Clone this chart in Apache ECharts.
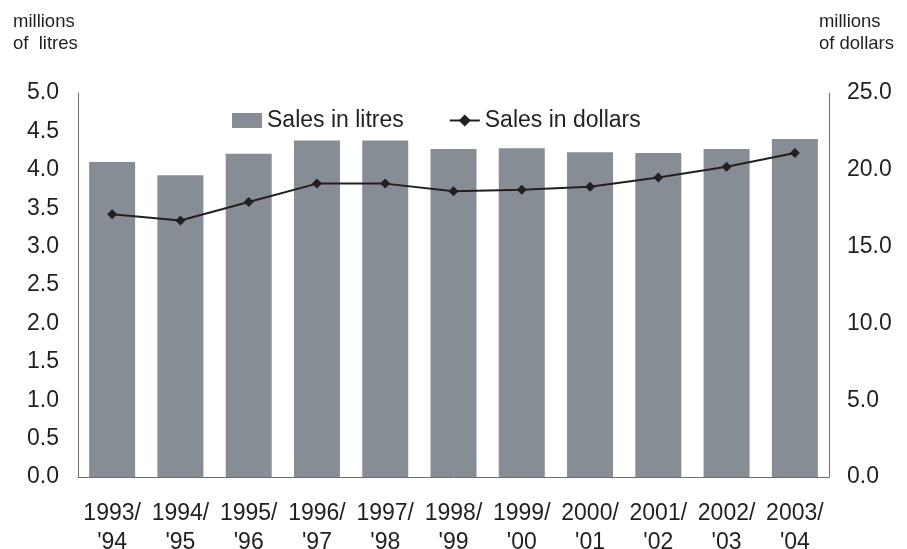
<!DOCTYPE html>
<html>
<head>
<meta charset="utf-8">
<script src="https://cdn.jsdelivr.net/npm/echarts@6/dist/echarts.min.js"></script>
<style>
html,body{margin:0;padding:0;background:#fff;overflow:hidden;}
#chart{width:907px;height:549px;}
</style>
</head>
<body>
<div id="chart"></div>
<script>
var categories = ["1993/\n'94","1994/\n'95","1995/\n'96","1996/\n'97","1997/\n'98","1998/\n'99","1999/\n'00","2000/\n'01","2001/\n'02","2002/\n'03","2003/\n'04"];
var salesLitres = [4.10, 3.93, 4.21, 4.38, 4.38, 4.27, 4.28, 4.23, 4.22, 4.27, 4.40];
var salesDollars = [17.1, 16.7, 17.9, 19.1, 19.1, 18.6, 18.7, 18.9, 19.5, 20.2, 21.1];
var leftTicks = {min: 0, max: 5, interval: 0.5};
var rightTicks = {min: 0, max: 25, interval: 5};

var FONT = '"Liberation Sans", Arial, sans-serif';
var TXT = '#231f20';
var chart = echarts.init(document.getElementById('chart'), null, {renderer: 'canvas', width: 907, height: 549});
chart.setOption({
  animation: false,
  backgroundColor: '#ffffff',
  textStyle: {fontFamily: FONT, color: TXT},
  grid: {left: 78, width: 751, top: 93, height: 384, containLabel: false, outerBoundsMode: 'none'},
  graphic: [
    {type: 'text', left: 13, top: 11, style: {text: 'millions\nof  litres', font: '18.5px ' + FONT, fill: TXT, lineHeight: 22}},
    {type: 'text', right: 13, top: 11, style: {text: 'millions\nof dollars', font: '18.5px ' + FONT, fill: TXT, lineHeight: 22, align: 'right'}}
  ],
  legend: {
    left: 227, top: 104, itemGap: 45, itemWidth: 30, itemHeight: 15,
    textStyle: {fontFamily: FONT, fontSize: 23, color: TXT},
    data: [
      {name: 'Sales in litres', icon: 'rect'},
      {name: 'Sales in dollars'}
    ]
  },
  xAxis: {
    type: 'category', data: categories,
    axisLine: {show: true, lineStyle: {color: '#6d6e70', width: 1}},
    axisTick: {show: false},
    axisLabel: {fontFamily: FONT, fontSize: 23, color: TXT, lineHeight: 29, margin: 22, interval: 0}
  },
  yAxis: [
    {
      type: 'value', min: leftTicks.min, max: leftTicks.max, interval: leftTicks.interval,
      axisLine: {show: true, lineStyle: {color: '#6d6e70', width: 1}},
      axisTick: {show: false}, splitLine: {show: false},
      axisLabel: {fontFamily: FONT, fontSize: 23, color: TXT, margin: 19, padding: [6,0,0,0],
        formatter: function(v){return v.toFixed(1);}}
    },
    {
      type: 'value', min: rightTicks.min, max: rightTicks.max, interval: rightTicks.interval,
      axisLine: {show: true, lineStyle: {color: '#6d6e70', width: 1}},
      axisTick: {show: false}, splitLine: {show: false},
      axisLabel: {fontFamily: FONT, fontSize: 23, color: TXT, margin: 18, padding: [6,0,0,0],
        formatter: function(v){return v.toFixed(1);}}
    }
  ],
  series: [
    {
      name: 'Sales in litres', type: 'bar', data: salesLitres, yAxisIndex: 0,
      barWidth: 46, itemStyle: {color: '#868d94'}
    },
    {
      name: 'Sales in dollars', type: 'line', data: salesDollars, yAxisIndex: 1,
      symbol: 'diamond', symbolSize: 10,
      lineStyle: {color: TXT, width: 2}, itemStyle: {color: TXT}
    }
  ]
});
</script>
</body>
</html>
